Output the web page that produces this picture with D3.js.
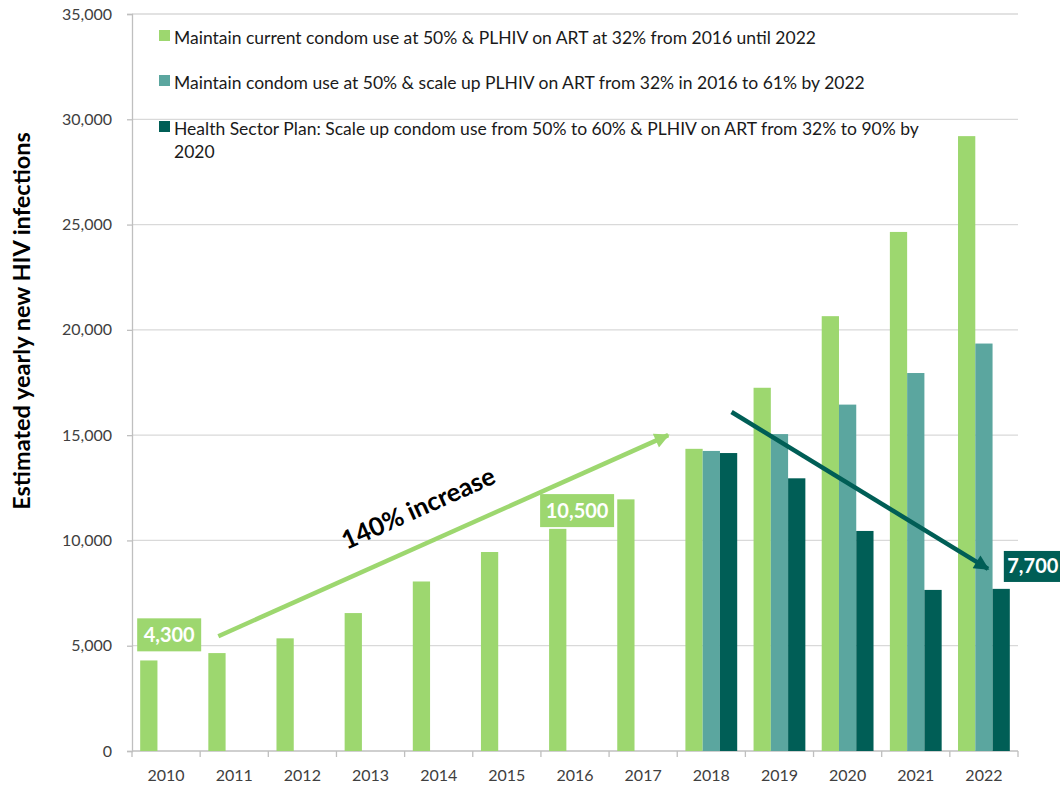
<!DOCTYPE html>
<html>
<head>
<meta charset="utf-8">
<script src="https://cdn.jsdelivr.net/npm/d3@7"></script>
<style>
  body { margin: 0; background: #fff; }
  svg { font-family: Lato, "Open Sans", sans-serif; }
</style>
</head>
<body>
<div id="chart"></div>
<script>
// values
const years = ['2010','2011','2012','2013','2014','2015','2016','2017','2018','2019','2020','2021','2022']
const maintainCurrent = [4300, 4650, 5350, 6550, 8050, 9450, 10550, 11950, 14350, 17250, 20650, 24650, 29200]
const scaleUpART = [null, null, null, null, null, null, null, null, 14250, 15050, 16450, 17950, 19350]
const healthSectorPlan = [null, null, null, null, null, null, null, null, 14150, 12950, 10450, 7650, 7700]
const seriesNames = [
  'Maintain current condom use at 50% & PLHIV on ART at 32% from 2016 until 2022',
  'Maintain condom use at 50% & scale up PLHIV on ART from 32% in 2016 to 61% by 2022',
  'Health Sector Plan: Scale up condom use from 50% to 60% & PLHIV on ART from 32% to 90% by|2020'
]
const colors = ['#9dd76f', '#5ba69f', '#005e56']
const yTicks = [0, 5000, 10000, 15000, 20000, 25000, 30000, 35000]

const W = 1060, H = 786
const margin = {left: 132, right: 42, top: 14, bottom: 35}

const svg = d3.select('#chart').append('svg')
  .attr('width', W)
  .attr('height', H)

const x0 = d3.scaleBand()
  .domain(years)
  .range([margin.left, W - margin.right])
  .paddingInner(0.24)
  .paddingOuter(0.12)

const x1 = d3.scaleBand()
  .domain([0, 1, 2])
  .range([0, x0.bandwidth()])

const y = d3.scaleLinear()
  .domain([0, 35000])
  .range([H - margin.bottom, margin.top])

const step = x0.step()
const gap = step * x0.paddingInner() / 2

// gridlines
svg.append('g')
  .selectAll('line')
  .data(yTicks.slice(1))
  .enter().append('line')
  .attr('x1', margin.left)
  .attr('x2', W - margin.right)
  .attr('y1', d => y(d))
  .attr('y2', d => y(d))
  .attr('stroke', '#d9d9d9')
  .attr('stroke-width', 1.3)

// y axis
const yAxis = d3.axisLeft(y)
  .tickValues(yTicks)
  .tickFormat(d3.format(','))
  .tickSize(5)
  .tickPadding(15)
const gy = svg.append('g')
  .attr('transform', `translate(${margin.left},0)`)
  .call(yAxis)
gy.select('.domain').attr('stroke', '#bfbfbf').attr('stroke-width', 1.3)
gy.selectAll('.tick line').attr('stroke', '#bfbfbf').attr('stroke-width', 1.3)
gy.selectAll('.tick text')
  .attr('fill', '#404040')
  .style('font-size', '16px')
  .style('font-family', 'Lato, sans-serif')

// x axis with ticks between categories
const baseY = y(0)
svg.append('line')
  .attr('x1', margin.left).attr('x2', W - margin.right)
  .attr('y1', baseY).attr('y2', baseY)
  .attr('stroke', '#bfbfbf').attr('stroke-width', 1.3)

svg.append('g')
  .selectAll('line')
  .data(years.concat(['end']))
  .enter().append('line')
  .attr('x1', (d, i) => i < years.length ? x0(d) - gap : x0(years[years.length - 1]) + x0.bandwidth() + gap)
  .attr('x2', (d, i) => i < years.length ? x0(d) - gap : x0(years[years.length - 1]) + x0.bandwidth() + gap)
  .attr('y1', baseY)
  .attr('y2', baseY + 6)
  .attr('stroke', '#bfbfbf')
  .attr('stroke-width', 1.3)

svg.append('g')
  .selectAll('text')
  .data(years)
  .enter().append('text')
  .attr('x', d => x0(d) + x0.bandwidth() / 2)
  .attr('y', baseY + 30)
  .attr('text-anchor', 'middle')
  .attr('fill', '#404040')
  .style('font-size', '16px')
  .text(d => d)

// bars
const allSeries = [maintainCurrent, scaleUpART, healthSectorPlan]
const barData = []
allSeries.forEach((vals, s) => {
  vals.forEach((v, i) => {
    if (v != null) barData.push({year: years[i], s: s, v: v})
  })
})

svg.append('g')
  .selectAll('rect')
  .data(barData)
  .enter().append('rect')
  .attr('x', d => x0(d.year) + x1(d.s))
  .attr('width', x1.bandwidth())
  .attr('y', d => y(d.v))
  .attr('height', d => y(0) - y(d.v))
  .attr('fill', d => colors[d.s])

// y axis title
svg.append('text')
  .attr('transform', `translate(30,321) rotate(-90)`)
  .attr('text-anchor', 'middle')
  .attr('fill', '#000')
  .style('font-size', '23.5px')
  .style('font-weight', 'bold')
  .text('Estimated yearly new HIV infections')

// legend
const legendY = [44, 89, 135]
const legend = svg.append('g')
seriesNames.forEach((name, i) => {
  legend.append('rect')
    .attr('x', 159)
    .attr('y', legendY[i] - 14)
    .attr('width', 11)
    .attr('height', 11)
    .attr('fill', colors[i])
  const parts = name.split('|')
  const t = legend.append('text')
    .attr('x', 174)
    .attr('y', legendY[i])
    .attr('fill', '#1a1a1a')
    .style('font-size', '17.5px')
  parts.forEach((p, j) => {
    t.append('tspan')
      .attr('x', 174)
      .attr('dy', j === 0 ? 0 : 23)
      .text(p)
  })
})

// arrows
const defs = svg.append('defs')
function marker(id, color) {
  defs.append('marker')
    .attr('id', id)
    .attr('markerUnits', 'userSpaceOnUse')
    .attr('viewBox', '0 0 10 10')
    .attr('refX', 9)
    .attr('refY', 5)
    .attr('markerWidth', 17)
    .attr('markerHeight', 15)
    .attr('orient', 'auto')
    .append('path')
    .attr('d', 'M0,0 L10,5 L0,10 z')
    .attr('fill', color)
}
marker('arrowGreen', colors[0])
marker('arrowDark', colors[2])

// rise: from 2011 to the 2017/2018 boundary
const g1 = {x: x0('2011') + 10, y: y(5450)}
const g2 = {x: x0('2018') - gap - 9, y: y(15000)}
svg.append('line')
  .attr('x1', g1.x).attr('y1', g1.y)
  .attr('x2', g2.x).attr('y2', g2.y)
  .attr('stroke', colors[0])
  .attr('stroke-width', 4.5)
  .attr('marker-end', 'url(#arrowGreen)')

// fall: from 2019 to 2022
const d1 = {x: x0('2019') - 22, y: y(16100)}
const d2 = {x: x0('2022') + 30, y: y(8650)}
svg.append('line')
  .attr('x1', d1.x).attr('y1', d1.y)
  .attr('x2', d2.x).attr('y2', d2.y)
  .attr('stroke', colors[2])
  .attr('stroke-width', 4.5)
  .attr('marker-end', 'url(#arrowDark)')

const angle = Math.atan2(g2.y - g1.y, g2.x - g1.x) * 180 / Math.PI
svg.append('text')
  .attr('transform', `translate(${x0('2014') + 9},${y(11150)}) rotate(${angle})`)
  .attr('text-anchor', 'middle')
  .attr('fill', '#000')
  .style('font-size', '25.5px')
  .style('font-weight', 'bold')
  .text('140% increase')

// value callouts
function callout(label, cx, cy, w, h, fill) {
  svg.append('rect')
    .attr('x', cx).attr('y', cy)
    .attr('width', w).attr('height', h)
    .attr('fill', fill)
  svg.append('text')
    .attr('x', cx + w / 2)
    .attr('y', cy + h / 2 + 7)
    .attr('text-anchor', 'middle')
    .attr('fill', '#fff')
    .style('font-size', '20px')
    .style('font-weight', 'bold')
    .text(label)
}
const fmt = d3.format(',')
callout(fmt(4300), x0('2010') - 3, y(6300), 64, 33, colors[0])
callout(fmt(10500), x0('2016') - 9, y(12200), 74, 33, colors[0])
callout(fmt(7700), x0('2022') + x0.bandwidth() - 6, y(9500), 58, 31, colors[2])
</script>
</body>
</html>
